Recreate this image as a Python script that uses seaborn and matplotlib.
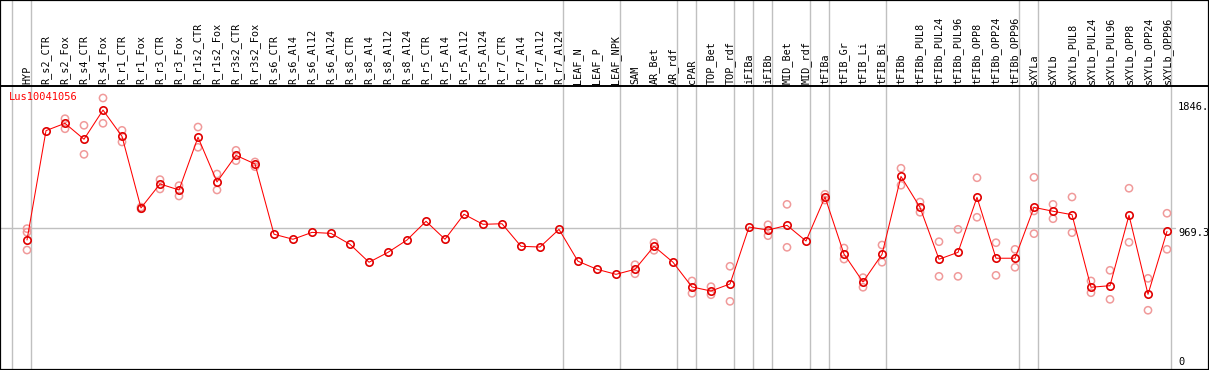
import seaborn as sns
import matplotlib.pyplot as plt
import pandas as pd
from matplotlib.transforms import blended_transform_factory

gene = 'Lus10041056'

samples = ['HYP', 'R_s2_CTR', 'R_s2_Fox', 'R_s4_CTR', 'R_s4_Fox', 'R_r1_CTR', 'R_r1_Fox',
           'R_r3_CTR', 'R_r3_Fox', 'R_r1s2_CTR', 'R_r1s2_Fox', 'R_r3s2_CTR', 'R_r3s2_Fox',
           'R_s6_CTR', 'R_s6_Al4', 'R_s6_Al12', 'R_s6_Al24', 'R_s8_CTR', 'R_s8_Al4', 'R_s8_Al12',
           'R_s8_Al24', 'R_r5_CTR', 'R_r5_Al4', 'R_r5_Al12', 'R_r5_Al24', 'R_r7_CTR', 'R_r7_Al4',
           'R_r7_Al12', 'R_r7_Al24', 'LEAF_N', 'LEAF_P', 'LEAF_NPK', 'SAM', 'AR_Bet', 'AR_rdf',
           'cPAR', 'TOP_Bet', 'TOP_rdf', 'iFIBa', 'iFIBb', 'MID_Bet', 'MID_rdf', 'tFIBa',
           'tFIB_Gr', 'tFIB_Li', 'tFIB_Bi', 'tFIBb', 'tFIBb_PUL8', 'tFIBb_PUL24', 'tFIBb_PUL96',
           'tFIBb_OPP8', 'tFIBb_OPP24', 'tFIBb_OPP96', 'sXYLa', 'sXYLb', 'sXYLb_PUL8',
           'sXYLb_PUL24', 'sXYLb_PUL96', 'sXYLb_OPP8', 'sXYLb_OPP24', 'sXYLb_OPP96']

means = [886, 1647, 1698, 1587, 1790, 1607, 1109, 1276, 1234, 1601, 1290, 1475, 1415,
         926, 891, 939, 932, 856, 731, 800, 886, 1016, 891, 1065, 995, 999, 842, 837, 960,
         738, 682, 647, 682, 842, 731, 559, 531, 580, 976, 955, 988, 879, 1185,
         788, 594, 786, 1328, 1113, 752, 800, 1183, 759, 759, 1113, 1086, 1062,
         557, 568, 1058, 508, 946]

replicates = [[965, 940, 816], [], [1730, 1660], [1684, 1482], [1874, 1698], [1649, 1568],
              [1115, 1103], [1306, 1241], [1264, 1192], [1672, 1531], [1345, 1234], [1510, 1438],
              [1429, 1396], [], [], [], [], [], [], [], [], [], [], [], [], [], [], [], [],
              [], [], [], [714, 651], [867, 814], [], [601, 515], [561, 505], [703, 459], [],
              [992, 916], [1134, 835], [], [1204, 1164], [830, 753], [624, 557], [851, 731],
              [1385, 1267], [1150, 1079], [874, 633], [960, 633], [1319, 1044], [867, 640],
              [821, 696], [1322, 1088, 930], [1134, 1034], [1185, 937], [601, 519], [675, 473],
              [1246, 870], [619, 397], [1072, 821]]

# last sample of each group, a divider is drawn after it
group_ends = ['HYP', 'R_r7_Al24', 'LEAF_NPK', 'AR_rdf', 'cPAR', 'TOP_rdf', 'iFIBa', 'iFIBb',
              'MID_rdf', 'tFIBa', 'tFIB_Bi', 'tFIBb_OPP96', 'sXYLa', 'sXYLb_OPP96']

scale_ticks = [1846, 969.3, 0]
scale_labels = ['1846.', '969.3', '0']

df_mean = pd.DataFrame({'pos': range(len(samples)), 'value': means})
df_rep = pd.DataFrame([(i, v) for i, reps in enumerate(replicates) for v in reps],
                      columns=['pos', 'value'])

sns.set_style('white')
plt.rcParams['font.family'] = ['DejaVu Sans Mono']

W, H = 1209, 370
fig = plt.figure(figsize=(W / 100, H / 100), dpi=100)
ax = fig.add_axes([0, 0, 1, 1])

# pixel geometry of the reference
x0, dx = 27, 19
y_zero, k = 367.3, 0.1437
ax.set_xlim(-x0 / dx, (W - x0) / dx)
ax.set_ylim((y_zero - H) / k, y_zero / k)
ax.set_xticks([])
ax.set_yticks([])
for s in ax.spines.values():
    s.set_color('black')
    s.set_linewidth(1.6)

ax.axhline((y_zero - 86) / k, color='black', lw=1.4, zorder=3)

# group dividers
ax.axvline(-1 + 3.5 / dx, color='#c0c0c0', lw=1, zorder=0)
for name in group_ends:
    ax.axvline(samples.index(name) + 3.5 / dx, color='#c0c0c0', lw=1, zorder=0)

ax.plot([-x0 / dx, (1175 - x0) / dx], [969.3, 969.3], color='#c0c0c0', lw=1, zorder=0)

sns.scatterplot(data=df_rep, x='pos', y='value', ax=ax, marker='o', s=27,
                facecolors='none', edgecolor='#f09a9a', linewidth=1.1, zorder=2, legend=False)
sns.lineplot(data=df_mean, x='pos', y='value', ax=ax, color='red', linewidth=0.75,
             marker='o', markersize=5.3, markerfacecolor='none', markeredgecolor='#e00000',
             markeredgewidth=1.2, zorder=4)

trans = blended_transform_factory(ax.transData, ax.transAxes)
for i, name in enumerate(samples):
    ax.text(i, 1 - 84 / H, name, rotation=90, ha='center', va='bottom',
            fontsize=7.3, color='black', transform=trans)

trans_r = blended_transform_factory(ax.transAxes, ax.transData)
for v, lab in zip(scale_ticks, scale_labels):
    ax.text(1178 / W, v, lab, ha='left', va='top' if v > 0 else 'bottom',
            fontsize=7.5, color='black', transform=trans_r)

ax.text(9 / W, 1 - 92 / H, gene, ha='left', va='top', fontsize=7.5, color='red',
        transform=ax.transAxes)

ax.set_xlabel('')
ax.set_ylabel('')
fig.savefig('out.png', dpi=100)
